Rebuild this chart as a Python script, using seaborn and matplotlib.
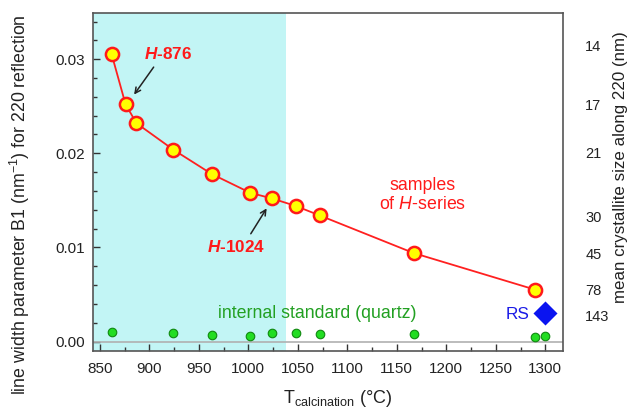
import matplotlib
matplotlib.use("Agg")
import matplotlib.pyplot as plt
import seaborn as sns
import pandas as pd
from matplotlib.ticker import MultipleLocator

# --- data ---
h_temp = [862, 876, 887, 924, 963, 1002, 1024, 1048, 1072, 1167, 1290]
h_b1 = [0.0305, 0.0252, 0.0232, 0.0204, 0.0178, 0.0158, 0.0152, 0.0144, 0.0134, 0.0094, 0.0055]
q_temp = [862, 924, 963, 1002, 1024, 1048, 1072, 1167, 1290, 1300]
q_b1 = [0.0010, 0.0009, 0.0007, 0.0006, 0.0009, 0.0009, 0.0008, 0.0008, 0.0005, 0.0006]
rs_temp = [1300]
rs_b1 = [0.0030]
size_labels = ["14", "17", "21", "30", "45", "78", "143"]
size_pos = [0.0315, 0.0252, 0.0201, 0.0133, 0.0094, 0.0055, 0.0028]
x_ticks = [850, 900, 950, 1000, 1050, 1100, 1150, 1200, 1250, 1300]
y_ticks = [0.00, 0.01, 0.02, 0.03]

sns.set_style("ticks")
plt.rcParams['font.family'] = ['Liberation Sans', 'DejaVu Sans']
plt.rcParams['mathtext.fontset'] = 'custom'
plt.rcParams['mathtext.rm'] = 'Liberation Sans'
plt.rcParams['mathtext.it'] = 'Liberation Sans:italic'
plt.rcParams['mathtext.bf'] = 'Liberation Sans:bold'
plt.rcParams['mathtext.bfit'] = 'Liberation Sans:bold:italic'

fig = plt.figure(figsize=(6.32, 4.09), dpi=100)
ax = fig.add_axes([0.147, 0.142, 0.744, 0.826])

ax.axvspan(800, 1038, color='#c2f5f5', zorder=0, lw=0)
ax.axhline(0, color='#b0b0b0', lw=1.2, zorder=1)

hdf = pd.DataFrame({'T': h_temp, 'B1': h_b1})
qdf = pd.DataFrame({'T': q_temp, 'B1': q_b1})
rdf = pd.DataFrame({'T': rs_temp, 'B1': rs_b1})

sns.lineplot(data=hdf, x='T', y='B1', ax=ax, color='#ff2020', lw=1.3, marker='o',
             markersize=9.5, markerfacecolor='#ffff00', markeredgecolor='#ff1a1a',
             markeredgewidth=1.8, zorder=3)
sns.scatterplot(data=qdf, x='T', y='B1', ax=ax, color='#22dd22', edgecolor='#108810',
                s=38, linewidth=0.8, zorder=3)
sns.scatterplot(data=rdf, x='T', y='B1', ax=ax, color='#0a14f0', marker='D',
                s=150, linewidth=0, zorder=3)

ax.set_xlim(843, 1318)
ax.set_ylim(-0.001, 0.0349)
ax.set_xticks(x_ticks)
ax.set_yticks(y_ticks)
ax.set_yticklabels([f"{v:.2f}" for v in y_ticks])
ax.xaxis.set_minor_locator(MultipleLocator(25))
ax.yaxis.set_minor_locator(MultipleLocator(0.002))
ax.tick_params(which='both', direction='in', colors='#333333', labelcolor='#222222',
               labelsize=11, right=True, top=False)
ax.tick_params(which='major', length=5, width=1)
ax.tick_params(which='minor', length=3, width=1)
ax.tick_params(axis='y', pad=6)
ax.tick_params(axis='x', pad=8)
for s in ax.spines.values():
    s.set_visible(True)
    s.set_color('#555555')
    s.set_linewidth(1.2)

ax.set_xlabel("T$_\\mathregular{calcination}$ (°C)", fontsize=13, color='#222222')
ax.xaxis.set_label_coords(0.521, -0.110)
ax.set_ylabel("line width parameter B1 (nm$^\\mathregular{-1}$) for 220 reflection",
              fontsize=12.8, color='#222222')
ax.yaxis.set_label_coords(-0.130, 0.432)

ax2 = ax.twinx()
ax2.set_ylim(ax.get_ylim())
ax2.set_yticks(size_pos)
ax2.set_yticklabels(size_labels)
ax2.tick_params(axis='y', length=0, pad=16, labelsize=10.5, labelcolor='#222222')
for s in ax2.spines.values():
    s.set_visible(False)
ax2.set_ylabel("mean crystallite size along 220 (nm)", fontsize=12.2, color='#222222')
ax2.yaxis.set_label_coords(1.107, 0.545)

red = '#ff1a1a'
ax.text(919, 0.0305, "$\\mathbfit{H}$-876", color=red, fontsize=12.3, fontweight='bold',
        ha='center', va='center')
ax.annotate("", xy=(883, 0.0260), xytext=(906, 0.0294),
            arrowprops=dict(arrowstyle='->', color='#222222', lw=1.1))
ax.text(988, 0.0100, "$\\mathbfit{H}$-1024", color=red, fontsize=12.3, fontweight='bold',
        ha='center', va='center')
ax.annotate("", xy=(1020, 0.0144), xytext=(1001, 0.0112),
            arrowprops=dict(arrowstyle='->', color='#222222', lw=1.1))
ax.text(1176, 0.0156, "samples\nof $\\mathit{H}$-series", color=red, fontsize=12.8,
        ha='center', va='center', linespacing=1.15)
ax.text(1070, 0.0030, "internal standard (quartz)", color='#22a022', fontsize=12.8,
        ha='center', va='center')
ax.text(1284, 0.0029, "RS", color='#1a1ae6', fontsize=12.3, ha='right', va='center')

fig.savefig("out.png", dpi=100)
